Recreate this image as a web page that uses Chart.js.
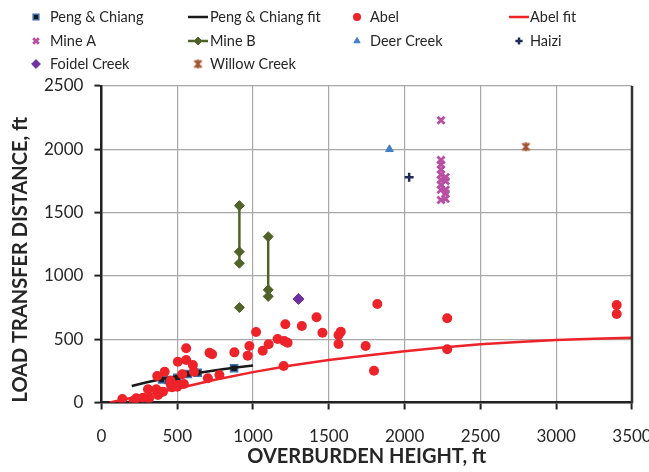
<!DOCTYPE html>
<html><head><meta charset="utf-8">
<script src="https://cdn.jsdelivr.net/npm/chart.js@4.4.1/dist/chart.umd.min.js"></script>
<style>
html,body{margin:0;padding:0;background:#fff;overflow:hidden;}
#wrap{position:relative;width:652px;height:472px;}
</style></head><body>
<div id="wrap"><canvas id="c"></canvas></div>
<script>
// ---- data ----
const xTicks = [0, 500, 1000, 1500, 2000, 2500, 3000, 3500];
const yTicks = [0, 500, 1000, 1500, 2000, 2500];
const seriesNames = ['Peng & Chiang', 'Peng & Chiang fit', 'Abel', 'Abel fit', 'Mine A', 'Mine B', 'Deer Creek', 'Haizi', 'Foidel Creek', 'Willow Creek'];
const xTitle = 'OVERBURDEN HEIGHT, ft';
const yTitle = 'LOAD TRANSFER DISTANCE, ft';

const pengChiang = [[400,182],[440,178],[500,195],[570,225],[635,235],[875,270]];
const pengChiangFit = [[200,130],[300,160],[400,185],[500,207],[600,227],[700,245],[800,262],[900,278],[1000,293]];
const abel = [[138,28],[213,14],[230,33],[274,38],[307,104],[314,33],[362,104],[368,209],[373,59],[406,85],[417,243],[456,152],[456,172],[461,125],[467,120],[500,125],[509,138],[504,322],[533,223],[544,146],[559,428],[559,336],[603,296],[610,243],[702,191],[713,393],[730,381],[778,217],[877,396],[965,370],[976,446],[1020,557],[1064,409],[1103,460],[1162,502],[1206,486],[1228,472],[1213,618],[1202,288],[1322,604],[1419,673],[1458,551],[1564,462],[1564,533],[1579,559],[1820,778],[1743,446],[1798,251],[2281,665],[2281,420],[3399,770],[3399,699]];
const abelFit = [[55,0],[250,50],[500,110],[750,180],[1000,240],[1250,292],[1500,335],[1750,372],[2000,405],[2250,435],[2500,460],[2750,478],[3000,494],[3250,504],[3500,511]];
const mineA = [[2240,2230],[2240,1915],[2240,1880],[2240,1840],[2240,1800],[2240,1760],[2240,1720],[2240,1680],[2240,1600],[2270,1780],[2270,1750],[2270,1680],[2270,1650],[2270,1610]];
const mineB = [[910,1555],[910,1190],[910,1100],[910,null],[910,750],[910,null],[1100,1310],[1100,890],[1100,838]];
const deerCreek = [[1900,2000]];
const haizi = [[2030,1780]];
const foidelCreek = [[1300,818]];
const willowCreek = [[2800,2020]];

// ---- rendering ----
const FONT = 'Lato';
const pts = a => a.map(p => ({x: p[0], y: p[1]}));

function starMarker(color){
  const c = document.createElement('canvas');
  c.width = 11; c.height = 11;
  const g = c.getContext('2d');
  g.strokeStyle = color; g.lineWidth = 2.2;
  g.beginPath();
  g.moveTo(2,2); g.lineTo(9,9);
  g.moveTo(9,2); g.lineTo(2,9);
  g.moveTo(5.5,1); g.lineTo(5.5,10);
  g.stroke();
  return c;
}

const datasets = [
  {label: seriesNames[0], data: pts(pengChiang), pointStyle:'rect', pointRadius:5, pointBackgroundColor:'#1a1a1a', pointBorderColor:'#3d6fb0', pointBorderWidth:1.5, showLine:false, order:10},
  {label: seriesNames[1], data: pts(pengChiangFit), pointRadius:0, showLine:true, borderColor:'#1a1a1a', borderWidth:2.5, order:9},
  {label: seriesNames[2], data: pts(abel), pointStyle:'circle', pointRadius:5, pointBackgroundColor:'#ee2229', pointBorderColor:'#ee2229', pointBorderWidth:0, showLine:false, order:8},
  {label: seriesNames[3], data: pts(abelFit), pointRadius:0, showLine:true, borderColor:'#ee2229', borderWidth:2.5, order:7},
  {label: seriesNames[4], data: pts(mineA), pointStyle:'crossRot', pointRadius:5, pointBackgroundColor:'#b84fa3', pointBorderColor:'#b84fa3', pointBorderWidth:2.8, showLine:false, order:6},
  {label: seriesNames[5], data: pts(mineB), pointStyle:'rectRot', pointRadius:5, pointBackgroundColor:'#4f6228', pointBorderColor:'#4f6228', pointBorderWidth:1, showLine:true, spanGaps:false, borderColor:'#4f6228', borderWidth:2.5, order:5},
  {label: seriesNames[6], data: pts(deerCreek), pointStyle:'triangle', pointRadius:4.5, pointBackgroundColor:'#3f7fc6', pointBorderColor:'#3f7fc6', pointBorderWidth:1, showLine:false, order:4},
  {label: seriesNames[7], data: pts(haizi), pointStyle:'cross', pointRadius:4.5, pointBackgroundColor:'#1f2a5a', pointBorderColor:'#1f2a5a', pointBorderWidth:2.5, showLine:false, order:3},
  {label: seriesNames[8], data: pts(foidelCreek), pointStyle:'rectRot', pointRadius:5.5, pointBackgroundColor:'#7030a0', pointBorderColor:'#7030a0', pointBorderWidth:1, showLine:false, order:2},
  {label: seriesNames[9], data: pts(willowCreek), pointStyle: starMarker('#a0522d'), pointRadius:5, pointBackgroundColor:'#a0522d', pointBorderColor:'#a0522d', pointBorderWidth:1, showLine:false, order:1}
];

const customLegend = {
  id: 'customLegend',
  afterDraw(chart){
    const ctx = chart.ctx;
    const colMarker = [36, 198, 357, 519];
    const colText = [50, 210, 370, 530];
    const rowY = [17, 41, 64];
    const a = chart.chartArea;
    ctx.save();
    // right frame line
    ctx.strokeStyle = '#333'; ctx.lineWidth = 2.5;
    ctx.beginPath(); ctx.moveTo(a.right, a.top); ctx.lineTo(a.right, a.bottom + 1); ctx.stroke();
    // x axis title
    ctx.fillStyle = '#262626';
    ctx.font = 'bold 20px ' + FONT;
    ctx.textAlign = 'center'; ctx.textBaseline = 'middle';
    ctx.fillText(xTitle, (a.left + a.right) / 2, 457);
    ctx.restore();
    chart.data.datasets.forEach((ds, i) => {
      const col = i % 4, row = Math.floor(i / 4);
      const y = rowY[row], mx = colMarker[col];
      ctx.save();
      if (ds.showLine) {
        ctx.strokeStyle = ds.borderColor; ctx.lineWidth = ds.borderWidth;
        ctx.beginPath(); ctx.moveTo(mx - 10, y); ctx.lineTo(mx + 10, y); ctx.stroke();
      }
      if (ds.pointRadius > 0) {
        ctx.fillStyle = ds.pointBackgroundColor;
        ctx.strokeStyle = ds.pointBorderColor;
        ctx.lineWidth = ds.pointBorderWidth;
        Chart.helpers.drawPoint(ctx, {pointStyle: ds.pointStyle, radius: ds.pointRadius * 0.8, rotation: 0, borderWidth: ds.pointBorderWidth}, mx, y);
      }
      ctx.fillStyle = '#262626';
      ctx.font = '14.5px ' + FONT;
      ctx.textBaseline = 'middle';
      ctx.textAlign = 'left';
      ctx.fillText(ds.label, colText[col], y);
      ctx.restore();
    });
  }
};

new Chart(document.getElementById('c'), {
  type: 'scatter',
  data: {datasets},
  options: {
    responsive: true, maintainAspectRatio: false, animation: false,
    layout: {padding: {top: 86, right: 20, bottom: 9.5, left: 0}},
    plugins: {legend: {display: false}, tooltip: {enabled: false}},
    scales: {
      x: {
        type: 'linear', min: 0, max: 3500,
        afterBuildTicks: s => { s.ticks = xTicks.map(v => ({value: v})); },
        afterFit: s => { s.height = 60; s.paddingLeft = 0; s.paddingRight = 0; },
        grid: {color: '#a8a8a8', lineWidth: 1.2, tickColor: '#222', tickLength: 7, tickWidth: 2},
        border: {color: '#222', width: 2.5},
        ticks: {color: '#262626', font: {family: FONT, size: 17}, padding: 16.5, maxRotation: 0, callback: v => String(v)},
        title: {display: false}
      },
      y: {
        type: 'linear', min: 0, max: 2500,
        afterBuildTicks: s => { s.ticks = yTicks.map(v => ({value: v})); },
        grid: {color: '#a8a8a8', lineWidth: 1.2, tickColor: '#222', tickLength: 7, tickWidth: 2},
        border: {color: '#222', width: 2.5},
        ticks: {color: '#262626', font: {family: FONT, size: 17}, padding: 11, callback: v => String(v)},
        title: {display: true, text: yTitle, align: 'start', color: '#262626', font: {family: FONT, size: 20, weight: 'bold'}, padding: {top: 9, bottom: 0}}
      }
    }
  },
  plugins: [customLegend]
});
</script>
</body></html>
